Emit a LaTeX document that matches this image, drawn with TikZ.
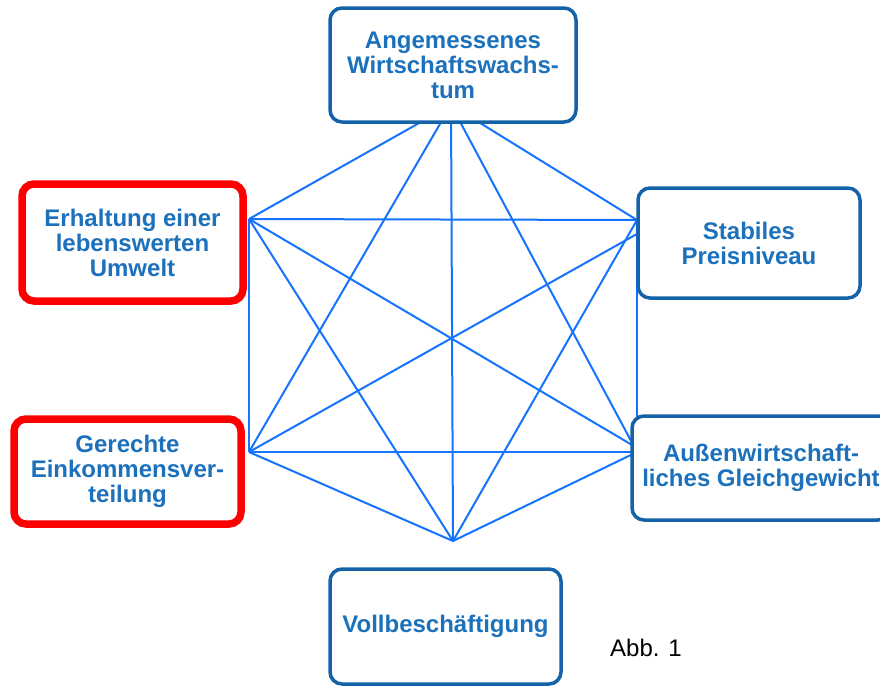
\documentclass[tikz,border=0pt]{standalone}
\usepackage{fontspec}
\setmainfont{Liberation Sans}
\definecolor{boxblue}{RGB}{20,98,168}
\definecolor{textblue}{RGB}{28,113,188}
\definecolor{lineblue}{RGB}{20,115,255}
\definecolor{goalred}{RGB}{255,0,0}
\begin{document}
\begin{tikzpicture}[x=1pt,y=-1pt,
  goal/.style={rectangle, rounded corners=12pt, draw=boxblue, line width=3.5pt, fill=white,
    text=textblue, font=\fontsize{24}{25}\selectfont\bfseries, align=center, inner sep=0pt},
  redgoal/.style={goal, draw=goalred, line width=7.5pt},
  link/.style={draw=lineblue, line width=2pt}]
\useasboundingbox (0,0) rectangle (880,686);
\clip (0,0) rectangle (880,686);
% hexagon vertices
\coordinate (vT) at (451,105);
\coordinate (vUL) at (249,219);
\coordinate (vUR) at (637,220);
\coordinate (vURin) at (660,221);
\coordinate (vLL) at (249,452);
\coordinate (vLR) at (637,452);
\coordinate (vLRin) at (644,452);
\coordinate (vB) at (453,541);
% all connections
\foreach \a/\b in {vT/vUL,vT/vUR,vT/vLL,vT/vLR,vT/vB,
                   vUL/vUR,vUL/vLL,vUL/vLRin,vUL/vB,
                   vURin/vLL,vUR/vLR,vUR/vB,
                   vLL/vLR,vLL/vB,vLR/vB}
  \draw[link] (\a) -- (\b);
% boxes
\node[goal, minimum width=246pt, minimum height=114pt] (wachstum) at (453,65)
  {Angemessenes\\Wirtschaftswachs-\\tum};
\node[redgoal, minimum width=221pt, minimum height=117pt] (umwelt) at (132.5,242.5)
  {Erhaltung einer\\lebenswerten\\Umwelt};
\node[redgoal, minimum width=227pt, minimum height=105pt] (einkommen) at (127.5,471.5)
  {Gerechte\\Einkommensver-\\teilung};
\node[goal, minimum width=222pt, minimum height=110pt] (preis) at (749,243)
  {Stabiles\\Preisniveau};
\node[goal, minimum width=258pt, minimum height=104pt] (aussen) at (761,468)
  {Außenwirtschaft-\\liches Gleichgewicht};
\node[goal, minimum width=231pt, minimum height=115pt] (voll) at (445.5,626.5)
  {Vollbeschäftigung};
\node[font=\fontsize{24}{25}\selectfont, inner sep=0pt] (abb) at (646,648) {Abb. 1};
\end{tikzpicture}
\end{document}
